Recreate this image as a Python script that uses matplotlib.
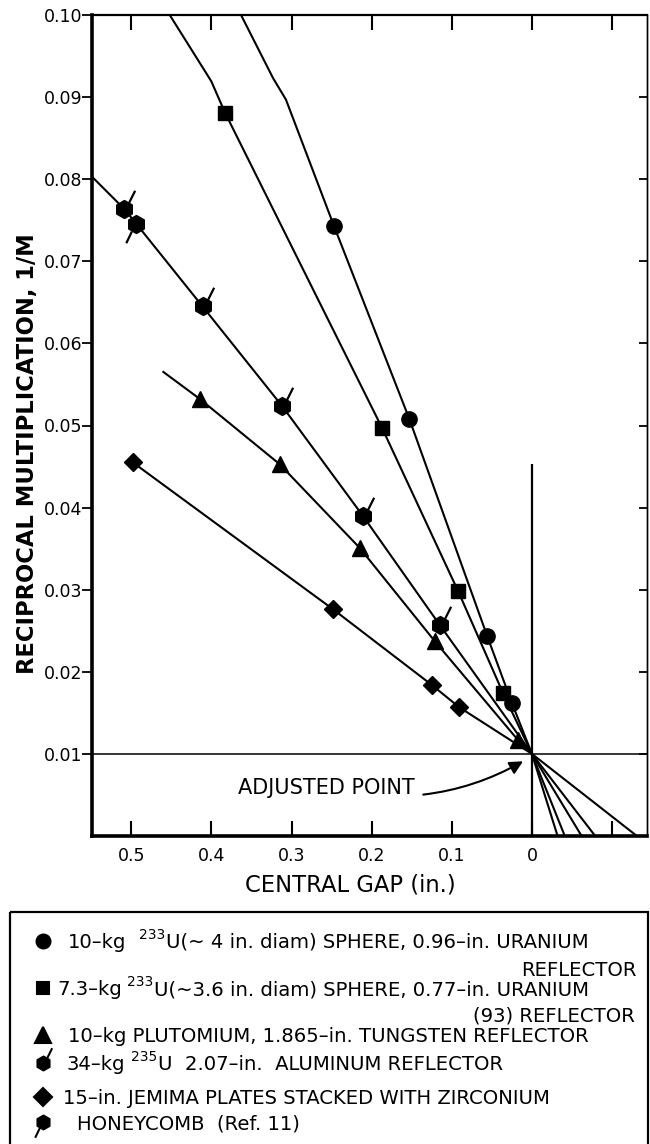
import numpy as np
import matplotlib
matplotlib.use("Agg")
import matplotlib.pyplot as plt
from matplotlib.path import Path
from matplotlib.patches import Rectangle

plt.rcParams['font.family'] = ['DejaVu Sans']

# --- data (central gap in., 1/M) ---
# 10-kg 233U sphere, 0.96-in. U reflector (circles)
circ_x = [0.247, 0.153, 0.056, 0.025]
circ_y = [0.0743, 0.0508, 0.0244, 0.0162]
circ_line_x = [0.363, 0.323, 0.307, 0.247, 0.153, 0.056, 0.025, 0.0, -0.032]
circ_line_y = [0.100, 0.0923, 0.0897, 0.0743, 0.0508, 0.0244, 0.0162, 0.010, 0.0]

# 7.3-kg 233U sphere, 0.77-in. U(93) reflector (squares)
sq_x = [0.383, 0.187, 0.092, 0.036]
sq_y = [0.0881, 0.0497, 0.0298, 0.0174]
sq_line_x = [0.452, 0.407, 0.400, 0.383, 0.187, 0.092, 0.036, 0.0, -0.041]
sq_line_y = [0.100, 0.0930, 0.0919, 0.0881, 0.0497, 0.0298, 0.0174, 0.010, 0.0]

# 10-kg plutonium, tungsten reflector (triangles)
tri_x = [0.414, 0.315, 0.215, 0.121, 0.0175]
tri_y = [0.0532, 0.0453, 0.0351, 0.0237, 0.0117]
tri_line_x = [0.461, 0.414, 0.315, 0.215, 0.121, 0.0175, 0.0, -0.079]
tri_line_y = [0.0566, 0.0532, 0.0453, 0.0351, 0.0237, 0.0117, 0.010, 0.0]

# 34-kg 235U, aluminum reflector + honeycomb point (same curve)
u235_x = [0.509, 0.411, 0.312, 0.211, 0.115]
u235_y = [0.0764, 0.0645, 0.0524, 0.0390, 0.0257]
honey_x = [0.494]
honey_y = [0.0746]
u235_line_x = [0.549, 0.509, 0.494, 0.411, 0.312, 0.211, 0.115, 0.0, -0.062]
u235_line_y = [0.0803, 0.0764, 0.0746, 0.0645, 0.0524, 0.0390, 0.0257, 0.010, 0.0]

# 15-in. JEMIMA plates with zirconium (diamonds)
dia_x = [0.498, 0.248, 0.125, 0.091]
dia_y = [0.0455, 0.0276, 0.0184, 0.0157]
dia_line_x = [0.498, 0.248, 0.125, 0.091, 0.0, -0.131]
dia_line_y = [0.0455, 0.0276, 0.0184, 0.0157, 0.010, 0.0]

# adjusted point and reference lines
adj_x, adj_y = 0.0, 0.010
vline_top = 0.0453

xticks = [0.5, 0.4, 0.3, 0.2, 0.1, 0.0, -0.1]
xticklabels = ['0.5', '0.4', '0.3', '0.2', '0.1', '0', '']
yticks = [0.01, 0.02, 0.03, 0.04, 0.05, 0.06, 0.07, 0.08, 0.09, 0.10]
yticklabels = ['0.01', '0.02', '0.03', '0.04', '0.05', '0.06', '0.07', '0.08', '0.09', '0.10']

# legend entries: (text before superscript, superscript, text after)
legend_parts = [
    ("10\u2013kg", "233", "U(\u223c 4 in. diam) SPHERE, 0.96\u2013in. URANIUM"),
    ("7.3\u2013kg", "233", "U(\u223c3.6 in. diam) SPHERE, 0.77\u2013in. URANIUM"),
    ("10\u2013kg PLUTOMIUM, 1.865\u2013in. TUNGSTEN REFLECTOR", "", ""),
    ("34\u2013kg", "235", "U  2.07\u2013in.  ALUMINUM REFLECTOR"),
    ("15\u2013in. JEMIMA PLATES STACKED WITH ZIRCONIUM", "", ""),
    ("HONEYCOMB  (Ref. 11)", "", ""),
]
legend_cont = ["REFLECTOR", "(93) REFLECTOR"]


def blob(tail):
    # hexagonal blob with a short tail stroke
    ang = np.deg2rad(np.arange(90, 450, 60))
    verts = [(np.cos(a), np.sin(a)) for a in ang]
    verts = verts + [verts[0]] + tail
    codes = [Path.MOVETO] + [Path.LINETO] * 5 + [Path.CLOSEPOLY] + [Path.MOVETO, Path.LINETO]
    return Path(verts, codes)


m_u235 = blob([(0.55, 0.8), (1.25, 2.2)])
m_honey = blob([(-0.55, -0.85), (-1.2, -2.2)])

fig = plt.figure(figsize=(6.5, 11.44), dpi=100)
ax = fig.add_axes([92 / 650, 308 / 1144, 555 / 650, 821 / 1144])

lw = 1.5
for lx, ly in [(circ_line_x, circ_line_y), (sq_line_x, sq_line_y), (tri_line_x, tri_line_y),
               (u235_line_x, u235_line_y), (dia_line_x, dia_line_y)]:
    ax.plot(lx, ly, color='black', lw=lw, solid_capstyle='butt', zorder=2)

ax.plot(circ_x, circ_y, ls='none', marker='o', ms=11, color='black', zorder=3)
ax.plot(sq_x, sq_y, ls='none', marker='s', ms=10, color='black', zorder=3)
ax.plot(tri_x, tri_y, ls='none', marker='^', ms=11, color='black', zorder=3)
ax.plot(dia_x, dia_y, ls='none', marker='D', ms=9, color='black', zorder=3)
ax.plot(u235_x, u235_y, ls='none', marker=m_u235, ms=27, mew=1.6, color='black', zorder=3)
ax.plot(honey_x, honey_y, ls='none', marker=m_honey, ms=27, mew=1.6, color='black', zorder=3)

ax.axhline(adj_y, color='black', lw=1.1, zorder=1)
ax.vlines(adj_x, 0, vline_top, color='black', lw=1.6, zorder=1)

ax.annotate('ADJUSTED POINT', xy=(adj_x + 0.011, adj_y - 0.0009), xytext=(0.146, 0.0059),
            ha='right', va='center', fontsize=15,
            arrowprops=dict(arrowstyle='-|>', connectionstyle='arc3,rad=0.2', lw=1.5,
                            color='black', mutation_scale=20, shrinkA=4, shrinkB=0))

ax.set_xlim(0.549, -0.1436)
ax.set_ylim(0, 0.10)
ax.set_xticks(xticks)
ax.set_xticklabels(xticklabels)
ax.set_yticks(yticks)
ax.set_yticklabels(yticklabels)
ax.tick_params(axis='x', direction='in', length=11, width=1.5, top=True, bottom=True,
               labelsize=12.5, pad=8)
ax.tick_params(axis='y', direction='out', length=7, width=1.3, left=True, right=False,
               labelsize=12.5, pad=0)
sec = ax.secondary_yaxis('right')
sec.set_yticks(yticks)
sec.tick_params(direction='in', length=6, width=1.3, labelright=False)
sec.spines['right'].set_linewidth(1.0)

ax.spines['left'].set_linewidth(2.6)
ax.spines['bottom'].set_linewidth(2.6)
ax.spines['top'].set_linewidth(1.6)
ax.spines['right'].set_linewidth(1.0)

fig.text(28 / 650, 1 - 454 / 1144, 'RECIPROCAL MULTIPLICATION, 1/M', rotation=90,
         ha='center', va='center', fontsize=16.3, fontweight='bold')
fig.text(350 / 650, 1 - 885 / 1144, 'CENTRAL GAP (in.)', ha='center', va='center', fontsize=16.3)

# legend box drawn in pixel coordinates of the lower panel
leg = fig.add_axes([0, 0, 1, 244 / 1144])
leg.set_xlim(0, 650)
leg.set_ylim(1144, 900)
leg.axis('off')
leg.add_patch(Rectangle((10, 912), 638, 300, fill=False, lw=1.6, ec='black'))

row_y = [941, 988, 1035, 1063, 1097, 1122]
text_x = [68, 57, 68, 67, 63, 77]
sup_gap = [9, 4, 0, 4, 0, 0]
mk = ['o', 's', '^', m_u235, 'D', m_honey]
ms = [10, 8, 11, 22, 9, 22]
fs = 14.1
for i in range(6):
    head, sup, tail = legend_parts[i]
    leg.plot([43], [row_y[i]], ls='none', marker=mk[i], ms=ms[i], mew=1.5, color='black')
    t1 = leg.text(text_x[i], row_y[i] + 7, head, ha='left', va='baseline', fontsize=fs)
    if sup:
        t2 = leg.annotate(sup, xy=(1, 0), xycoords=t1, xytext=(sup_gap[i], 7.5),
                          textcoords='offset points', ha='left', va='bottom', fontsize=fs * 0.7)
        leg.annotate(tail, xy=(1, 0), xycoords=(t2, t1), xytext=(0.5, 0),
                     textcoords='offset points', ha='left', va='bottom', fontsize=fs)
leg.text(637, 969 + 7, legend_cont[0], ha='right', va='baseline', fontsize=fs)
leg.text(635, 1014 + 7, legend_cont[1], ha='right', va='baseline', fontsize=fs)

fig.savefig('out.png', dpi=100)
